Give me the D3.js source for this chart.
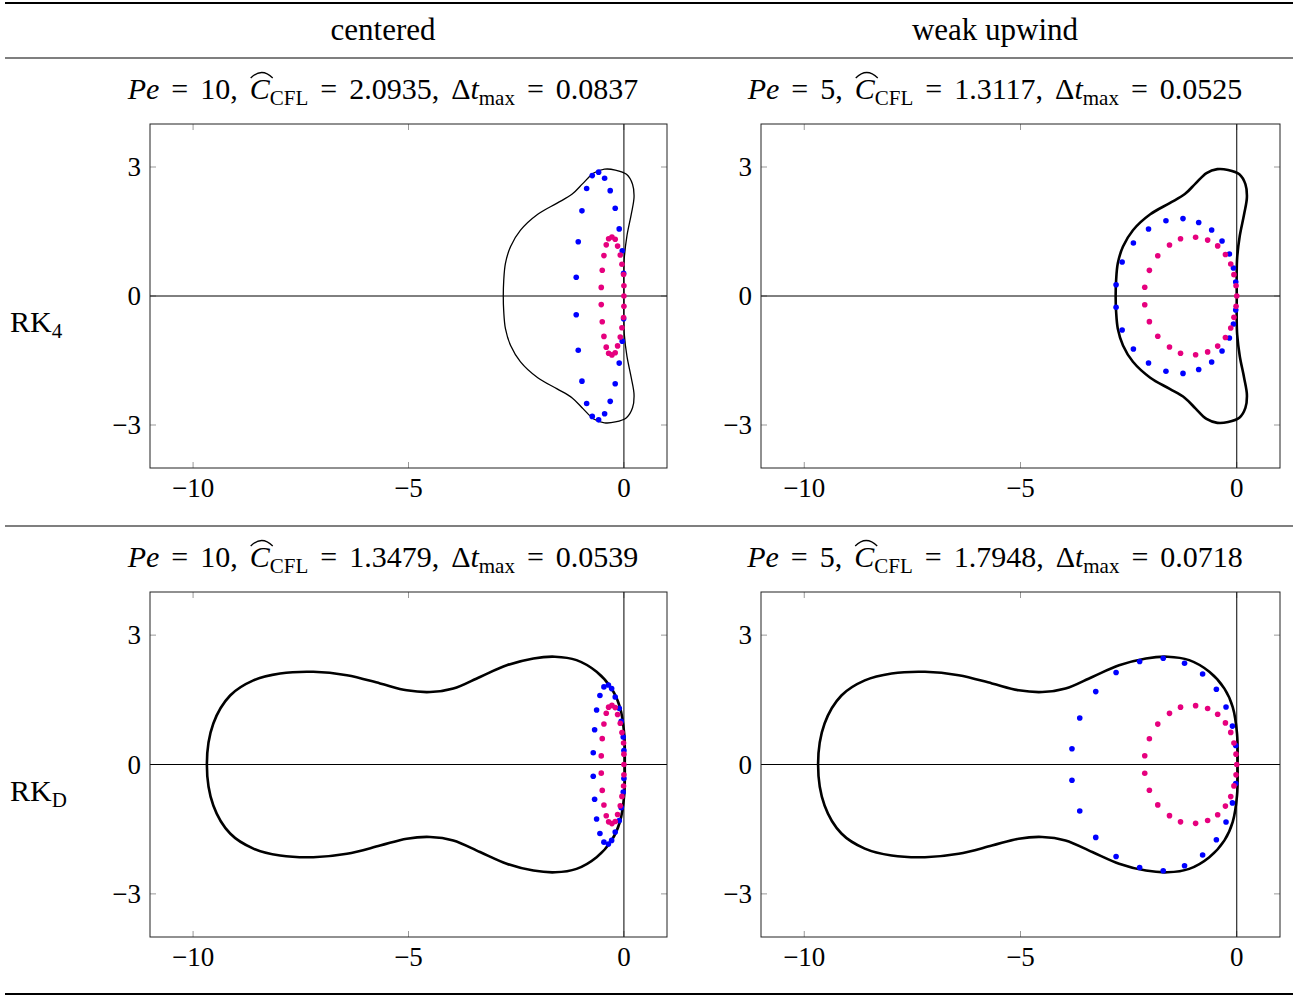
<!DOCTYPE html>
<html>
<head>
<meta charset="utf-8">
<script src="https://cdn.jsdelivr.net/npm/d3@7"></script>
<style>
  body { margin: 0; background: #fff; }
  svg { display: block; }
  text { font-family: "Liberation Serif", "Times New Roman", serif; fill: #000; }
</style>
</head>
<body>
<div class="svg_container"></div>
<script>
// Table text
var columnHeaders = ["centered", "weak upwind"];
var rowNames = ["RK", "RK"];
var rowSubs = ["4", "D"];

// Panel parameters, [row][col]
var peValues = [[10, 5], [10, 5]];
var cflValues = [["2.0935", "1.3117"], ["1.3479", "1.7948"]];
var dtMaxValues = [["0.0837", "0.0525"], ["0.0539", "0.0718"]];

// Axis ticks
var xTicks = [-10, -5, 0];
var yTicks = [-3, 0, 3];

// Stability region boundary of RK4
var rk4Boundary = [
  [0.0, 0.0], [-0.002, 0.5], [0.01, 0.9], [0.07, 1.4], [0.17, 1.9], [0.235, 2.3],
  [0.2, 2.6], [0.06, 2.83], [-0.2, 2.93], [-0.45, 2.95], [-0.7, 2.86], [-0.95, 2.62],
  [-1.2, 2.37], [-1.55, 2.16], [-2.0, 1.9], [-2.4, 1.53], [-2.63, 1.15], [-2.75, 0.76],
  [-2.79, 0.35], [-2.8, 0.0],
  [-2.79, -0.35], [-2.75, -0.76], [-2.63, -1.15], [-2.4, -1.53], [-2.0, -1.9],
  [-1.55, -2.16], [-1.2, -2.37], [-0.95, -2.62], [-0.7, -2.86], [-0.45, -2.95],
  [-0.2, -2.93], [0.06, -2.83], [0.2, -2.6], [0.235, -2.3], [0.17, -1.9], [0.07, -1.4],
  [0.01, -0.9], [-0.002, -0.5]
];

// Stability region boundary of RK_D
var rkdBoundary = [
  [0.02, 0.0], [0.007, 0.71], [-0.093, 1.33], [-0.285, 1.76], [-0.634, 2.15], [-1.1, 2.42],
  [-1.6, 2.5], [-2.1, 2.46], [-2.72, 2.3], [-3.34, 2.03], [-3.96, 1.76], [-4.5, 1.68],
  [-5.04, 1.72], [-5.66, 1.88], [-6.43, 2.07], [-7.21, 2.15], [-7.98, 2.11], [-8.6, 1.95],
  [-9.14, 1.6], [-9.53, 0.95], [-9.68, 0.0],
  [-9.53, -0.95], [-9.14, -1.6], [-8.6, -1.95], [-7.98, -2.11], [-7.21, -2.15],
  [-6.43, -2.07], [-5.66, -1.88], [-5.04, -1.72], [-4.5, -1.68], [-3.96, -1.76],
  [-3.34, -2.03], [-2.72, -2.3], [-2.1, -2.46], [-1.6, -2.5], [-1.1, -2.42],
  [-0.634, -2.15], [-0.285, -1.76], [-0.093, -1.33], [0.007, -0.71]
];

// Scaled eigenvalues, blue set per panel
var blueCenteredRK4 = [
  [-0.735, 2.8], [-0.587, 2.88], [-0.448, 2.74], [-0.865, 2.5], [-0.318, 2.45], [-0.974, 1.98],
  [-0.202, 2.04], [-1.06, 1.26], [-0.109, 1.56], [-1.107, 0.435], [-0.039, 1.05], [-0.007, 0.53],
  [-0.735, -2.8], [-0.587, -2.88], [-0.448, -2.74], [-0.865, -2.5], [-0.318, -2.45], [-0.974, -1.98],
  [-0.202, -2.04], [-1.06, -1.26], [-0.109, -1.56], [-1.107, -0.435], [-0.039, -1.05], [-0.007, -0.53]
];
var blueUpwindRK4 = [
  [-1.637, 1.75], [-1.243, 1.8], [-0.88, 1.71], [-0.58, 1.535], [-0.34, 1.28], [-0.17, 0.977],
  [-0.077, 0.651], [-0.023, 0.326], [-2.04, 1.558], [-2.39, 1.233], [-2.65, 0.791], [-2.79, 0.263],
  [-1.637, -1.75], [-1.243, -1.8], [-0.88, -1.71], [-0.58, -1.535], [-0.34, -1.28], [-0.17, -0.977],
  [-0.077, -0.651], [-0.023, -0.326], [-2.04, -1.558], [-2.39, -1.233], [-2.65, -0.791], [-2.79, -0.263]
];
var blueCenteredRKD = [
  [-0.464, 1.8], [-0.36, 1.845], [-0.285, 1.76], [-0.557, 1.6], [-0.202, 1.566], [-0.634, 1.264],
  [-0.109, 1.302], [-0.68, 0.806], [-0.063, 1.0], [-0.712, 0.271], [-0.016, 0.636], [0.0, 0.326],
  [-0.464, -1.8], [-0.36, -1.845], [-0.285, -1.76], [-0.557, -1.6], [-0.202, -1.566], [-0.634, -1.264],
  [-0.109, -1.302], [-0.68, -0.806], [-0.063, -1.0], [-0.712, -0.271], [-0.016, -0.636], [0.0, -0.326]
];
var blueUpwindRKD = [
  [-1.7, 2.465], [-1.207, 2.349], [-2.245, 2.388], [-0.789, 2.1], [-2.79, 2.132], [-0.471, 1.744],
  [-3.26, 1.69], [-0.248, 1.333], [-3.63, 1.078], [-0.1, 0.891], [-3.81, 0.364], [-0.023, 0.442],
  [-1.7, -2.465], [-1.207, -2.349], [-2.245, -2.388], [-0.789, -2.1], [-2.79, -2.132], [-0.471, -1.744],
  [-3.26, -1.69], [-0.248, -1.333], [-3.63, -1.078], [-0.1, -0.891], [-3.81, -0.364], [-0.023, -0.442]
];

// Pink set, one per column
var pinkCentered = [
  [-0.355, 1.33], [-0.278, 1.37], [-0.202, 1.32], [-0.41, 1.19], [-0.147, 1.16], [-0.464, 0.94],
  [-0.085, 0.955], [-0.503, 0.6], [-0.046, 0.74], [-0.526, 0.2], [-0.008, 0.5], [0.0, 0.24], [0.0, 0.0],
  [-0.355, -1.33], [-0.278, -1.37], [-0.202, -1.32], [-0.41, -1.19], [-0.147, -1.16], [-0.464, -0.94],
  [-0.085, -0.955], [-0.503, -0.6], [-0.046, -0.74], [-0.526, -0.2], [-0.008, -0.5], [0.0, -0.24]
];
var pinkUpwind = [
  [-1.3, 1.33], [-0.951, 1.365], [-0.673, 1.3], [-1.555, 1.186], [-0.441, 1.165], [-1.826, 0.937],
  [-0.262, 0.965], [-2.02, 0.597], [-0.139, 0.744], [-2.127, 0.202], [-0.065, 0.496], [-0.016, 0.24], [0.0, 0.0],
  [-1.3, -1.33], [-0.951, -1.365], [-0.673, -1.3], [-1.555, -1.186], [-0.441, -1.165], [-1.826, -0.937],
  [-0.262, -0.965], [-2.02, -0.597], [-0.139, -0.744], [-2.127, -0.202], [-0.065, -0.496], [-0.016, -0.24]
];

var boundaries = [rk4Boundary, rkdBoundary];
var blueSets = [[blueCenteredRK4, blueUpwindRK4], [blueCenteredRKD, blueUpwindRKD]];
var pinkSets = [pinkCentered, pinkUpwind];
var curveWidths = [[1.3, 2.6], [2.6, 2.6]];

// Layout
var W = 1296, H = 996;
var colCenter = [383, 995];
var boxLeft = [150, 761], boxRight = [667, 1280];
var boxTop = [124, 592], boxBottom = [468, 937];
var titleBase = [99, 567];
var BLUE = "#0000ff", PINK = "#e6007e";

var svg = d3.select("div.svg_container")
  .append("svg")
    .attr("width", W)
    .attr("height", H);

// Rules of the table
function rule(y, w) {
  svg.append("line")
    .attr("x1", 5).attr("x2", 1293)
    .attr("y1", y).attr("y2", y)
    .attr("stroke", "#000")
    .attr("stroke-width", w);
}
rule(3, 2);
rule(58, 1.2);
rule(526, 1.2);
rule(994, 2);

// Column headers
columnHeaders.forEach(function(h, c) {
  svg.append("text")
    .attr("x", colCenter[c])
    .attr("y", 40)
    .attr("text-anchor", "middle")
    .style("font-size", "31px")
    .text(h);
});

// Row labels
rowNames.forEach(function(name, r) {
  var t = svg.append("text")
    .attr("x", 10)
    .attr("y", (boxTop[r] + boxBottom[r]) / 2 + 36)
    .style("font-size", "30px");
  t.append("tspan").text(name);
  t.append("tspan").attr("dy", 6).style("font-size", "21px").text(rowSubs[r]);
});

function panelTitle(r, c) {
  var t = svg.append("text")
    .attr("x", colCenter[c])
    .attr("y", titleBase[r])
    .attr("text-anchor", "middle")
    .style("font-size", "30px")
    .style("word-spacing", "4.5px");
  t.append("tspan").style("font-style", "italic").text("Pe");
  t.append("tspan").text(" = " + peValues[r][c] + ", ");
  var cIndex = ("Pe" + " = " + peValues[r][c] + ", ").length;
  t.append("tspan").style("font-style", "italic").text("C");
  t.append("tspan").attr("dy", 6).style("font-size", "21px").text("CFL");
  t.append("tspan").attr("dy", -6).text(" = " + cflValues[r][c] + ", \u0394");
  t.append("tspan").style("font-style", "italic").text("t");
  t.append("tspan").attr("dy", 6).style("font-size", "21px").text("max");
  t.append("tspan").attr("dy", -6).text(" = " + dtMaxValues[r][c]);

  // wide hat over the C
  var ext = t.node().getExtentOfChar(cIndex);
  var b = titleBase[r];
  var x0 = ext.x + 1, x1 = ext.x + ext.width + 3;
  svg.append("path")
    .attr("d", "M" + x0 + "," + (b - 21) +
               "Q" + ((x0 + x1) / 2) + "," + (b - 32) + " " + x1 + "," + (b - 21))
    .attr("fill", "none")
    .attr("stroke", "#000")
    .attr("stroke-width", 1.3);
}

function panel(r, c) {
  var x = d3.scaleLinear().domain([-11, 1]).range([boxLeft[c], boxRight[c]]);
  var y = d3.scaleLinear().domain([-4, 4]).range([boxBottom[r], boxTop[r]]);
  var g = svg.append("g");

  // gray inward ticks
  var tickLen = 6;
  xTicks.forEach(function(v) {
    g.append("line").attr("x1", x(v)).attr("x2", x(v))
      .attr("y1", y(-4)).attr("y2", y(-4) - tickLen)
      .attr("stroke", "#999").attr("stroke-width", 1);
    g.append("line").attr("x1", x(v)).attr("x2", x(v))
      .attr("y1", y(4)).attr("y2", y(4) + tickLen)
      .attr("stroke", "#999").attr("stroke-width", 1);
    g.append("text")
      .attr("x", x(v))
      .attr("y", y(-4) + 29)
      .attr("text-anchor", "middle")
      .style("font-size", "27px")
      .text(v < 0 ? "\u2212" + Math.abs(v) : v);
  });
  yTicks.forEach(function(v) {
    g.append("line").attr("x1", x(-11)).attr("x2", x(-11) + tickLen)
      .attr("y1", y(v)).attr("y2", y(v))
      .attr("stroke", "#999").attr("stroke-width", 1);
    g.append("line").attr("x1", x(1)).attr("x2", x(1) - tickLen)
      .attr("y1", y(v)).attr("y2", y(v))
      .attr("stroke", "#999").attr("stroke-width", 1);
    g.append("text")
      .attr("x", x(-11) - 9)
      .attr("y", y(v) + 9)
      .attr("text-anchor", "end")
      .style("font-size", "27px")
      .text(v < 0 ? "\u2212" + Math.abs(v) : v);
  });

  // axis lines through the origin
  g.append("line").attr("x1", x(-11)).attr("x2", x(1))
    .attr("y1", y(0)).attr("y2", y(0))
    .attr("stroke", "#000").attr("stroke-width", 1);
  g.append("line").attr("x1", x(0)).attr("x2", x(0))
    .attr("y1", y(-4)).attr("y2", y(4))
    .attr("stroke", "#000").attr("stroke-width", 1);

  // frame
  g.append("rect")
    .attr("x", x(-11)).attr("y", y(4))
    .attr("width", x(1) - x(-11)).attr("height", y(-4) - y(4))
    .attr("fill", "none").attr("stroke", "#222").attr("stroke-width", 1);

  // stability boundary
  var line = d3.line()
    .x(function(d) { return x(d[0]); })
    .y(function(d) { return y(d[1]); })
    .curve(d3.curveCatmullRomClosed.alpha(0.5));
  g.append("path")
    .datum(boundaries[r])
    .attr("d", line)
    .attr("fill", "none")
    .attr("stroke", "#000")
    .attr("stroke-width", curveWidths[r][c]);

  // eigenvalues
  g.selectAll("circle.blue")
    .data(blueSets[r][c])
    .enter()
    .append("circle")
      .attr("class", "blue")
      .attr("cx", function(d) { return x(d[0]); })
      .attr("cy", function(d) { return y(d[1]); })
      .attr("r", 2.8)
      .style("fill", BLUE);
  g.selectAll("circle.pink")
    .data(pinkSets[c])
    .enter()
    .append("circle")
      .attr("class", "pink")
      .attr("cx", function(d) { return x(d[0]); })
      .attr("cy", function(d) { return y(d[1]); })
      .attr("r", 2.8)
      .style("fill", PINK);
}

for (var r = 0; r < 2; r++) {
  for (var c = 0; c < 2; c++) {
    panelTitle(r, c);
    panel(r, c);
  }
}
</script>
</body>
</html>
